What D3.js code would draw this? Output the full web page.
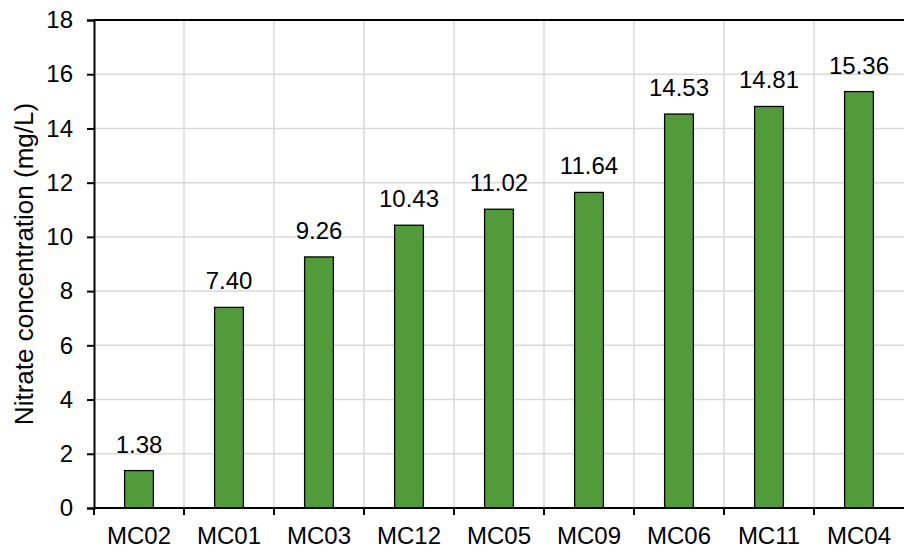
<!DOCTYPE html>
<html>
<head>
<meta charset="utf-8">
<script src="https://cdn.jsdelivr.net/npm/d3@7"></script>
<style>
  body { margin: 0; background: #fff; }
  text { font-family: "Liberation Sans", Arial, sans-serif; fill: #000; }
</style>
</head>
<body>
<div id="chart"></div>
<script>
// data
var sites = ["MC02", "MC01", "MC03", "MC12", "MC05", "MC09", "MC06", "MC11", "MC04"];
var nitrate = [1.38, 7.40, 9.26, 10.43, 11.02, 11.64, 14.53, 14.81, 15.36];
var yTicks = [0, 2, 4, 6, 8, 10, 12, 14, 16, 18];

var svgWidth = 904;
var svgHeight = 553;

var margin = { top: 20, right: 0, bottom: 45, left: 94 };
var width = svgWidth - margin.left - margin.right;
var height = svgHeight - margin.top - margin.bottom;

var svg = d3.select("#chart")
    .append("svg")
    .attr("width", svgWidth)
    .attr("height", svgHeight);

var chartGroup = svg.append("g")
    .attr("transform", `translate(${margin.left}, ${margin.top})`);

var xScale = d3.scaleBand()
    .domain(sites)
    .range([0, width])
    .paddingInner(0)
    .paddingOuter(0);

var yScale = d3.scaleLinear()
    .domain([0, 18])
    .range([height, 0]);

// horizontal gridlines
chartGroup.append("g")
    .selectAll("line")
    .data(yTicks.filter(d => d > 0 && d < 18))
    .enter()
    .append("line")
    .attr("x1", 0)
    .attr("x2", width)
    .attr("y1", d => yScale(d))
    .attr("y2", d => yScale(d))
    .attr("stroke", "#d9d9d9")
    .attr("stroke-width", 1.5);

// vertical gridlines at category boundaries
chartGroup.append("g")
    .selectAll("line")
    .data(sites.slice(1))
    .enter()
    .append("line")
    .attr("x1", d => xScale(d))
    .attr("x2", d => xScale(d))
    .attr("y1", 0)
    .attr("y2", height)
    .attr("stroke", "#d9d9d9")
    .attr("stroke-width", 1.5);

// top border
chartGroup.append("line")
    .attr("x1", 0)
    .attr("x2", width)
    .attr("y1", yScale(18))
    .attr("y2", yScale(18))
    .attr("stroke", "#000")
    .attr("stroke-width", 2);

// bars
var barW = xScale.bandwidth() * 0.32;
chartGroup.selectAll("rect.bar")
    .data(sites)
    .enter()
    .append("rect")
    .attr("class", "bar")
    .attr("x", d => xScale(d) + xScale.bandwidth() / 2 - barW / 2)
    .attr("y", (d, i) => yScale(nitrate[i]))
    .attr("width", barW)
    .attr("height", (d, i) => height - yScale(nitrate[i]))
    .attr("fill", "#529b3a")
    .attr("stroke", "#000")
    .attr("stroke-width", 1.3);

// value labels
chartGroup.selectAll("text.val")
    .data(sites)
    .enter()
    .append("text")
    .attr("class", "val")
    .attr("x", d => xScale(d) + xScale.bandwidth() / 2)
    .attr("y", (d, i) => yScale(nitrate[i]) - 18)
    .attr("text-anchor", "middle")
    .style("font-size", "24px")
    .text((d, i) => nitrate[i].toFixed(2));

// y axis
var leftAxis = d3.axisLeft(yScale)
    .tickValues(yTicks)
    .tickSize(7)
    .tickPadding(14);

var yAxis = chartGroup.append("g").call(leftAxis);
yAxis.select(".domain").attr("stroke", "#000").attr("stroke-width", 2);
yAxis.selectAll(".tick line").attr("stroke", "#000").attr("stroke-width", 2);
yAxis.selectAll(".tick text")
    .style("font-size", "24px")
    .style("font-family", "Liberation Sans, Arial, sans-serif")
    .attr("fill", "#000");

// x axis: ticks sit on category boundaries
var xAxis = chartGroup.append("g")
    .attr("transform", `translate(0, ${height})`);

xAxis.append("line")
    .attr("x1", 0)
    .attr("x2", width)
    .attr("stroke", "#000")
    .attr("stroke-width", 2);

xAxis.selectAll("line.tk")
    .data(sites)
    .enter()
    .append("line")
    .attr("class", "tk")
    .attr("x1", d => xScale(d))
    .attr("x2", d => xScale(d))
    .attr("y1", 0)
    .attr("y2", 7)
    .attr("stroke", "#000")
    .attr("stroke-width", 2);

xAxis.selectAll("text")
    .data(sites)
    .enter()
    .append("text")
    .attr("x", d => xScale(d) + xScale.bandwidth() / 2)
    .attr("y", 36)
    .attr("text-anchor", "middle")
    .style("font-size", "24px")
    .text(d => d);

// y axis title
chartGroup.append("text")
    .attr("transform", "rotate(-90)")
    .attr("x", 0 - (height / 2))
    .attr("y", 0 - margin.left + 33)
    .attr("text-anchor", "middle")
    .style("font-size", "26px")
    .text("Nitrate concentration (mg/L)");
</script>
</body>
</html>
